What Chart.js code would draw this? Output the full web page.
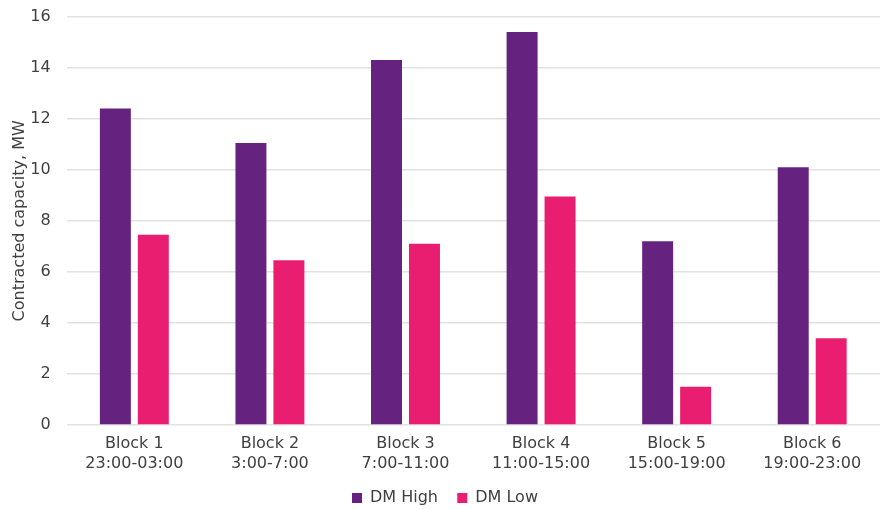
<!DOCTYPE html>
<html>
<head>
<meta charset="utf-8">
<script src="https://cdn.jsdelivr.net/npm/chart.js@4.4.1/dist/chart.umd.min.js"></script>
<style>
  html, body { margin: 0; padding: 0; background: #ffffff; }
  #wrap { width: 884px; height: 509px; position: relative; }
</style>
</head>
<body>
<div id="wrap"><canvas id="c" width="884" height="509"></canvas></div>
<script>
// Time blocks (two-line labels)
const blocks = [
  ['Block 1', '23:00-03:00'],
  ['Block 2', '3:00-7:00'],
  ['Block 3', '7:00-11:00'],
  ['Block 4', '11:00-15:00'],
  ['Block 5', '15:00-19:00'],
  ['Block 6', '19:00-23:00']
];
// Contracted capacity, MW
const dmHigh = [12.4, 11.05, 14.3, 15.4, 7.2, 10.1];
const dmLow  = [7.45, 6.45, 7.1, 8.95, 1.5, 3.4];
const seriesNames = ['DM High', 'DM Low'];
const yTitle = 'Contracted capacity, MW';

const textColor = '#404040';
const fontFamily = '"DejaVu Sans", sans-serif';

// Nudge the legend down a little after the layout pass
const legendNudge = {
  id: 'legendNudge',
  afterLayout(chart) {
    const lg = chart.legend;
    if (!lg) return;
    lg.top += 7; lg.bottom += 7;
  }
};

new Chart(document.getElementById('c'), {
  type: 'bar',
  data: {
    labels: blocks,
    datasets: [
      { label: seriesNames[0], data: dmHigh, backgroundColor: '#65237f',
        categoryPercentage: 0.56, barPercentage: 0.816 },
      { label: seriesNames[1], data: dmLow, backgroundColor: '#e91e70',
        categoryPercentage: 0.56, barPercentage: 0.816 }
    ]
  },
  plugins: [legendNudge],
  options: {
    responsive: false,
    animation: false,
    layout: { padding: { left: 10, right: 4, top: 0, bottom: 0 } },
    plugins: {
      legend: {
        position: 'bottom',
        labels: {
          boxWidth: 10, boxHeight: 10, padding: 4,
          color: textColor, font: { family: fontFamily, size: 16 },
          // extra trailing space separates the two legend entries
          generateLabels: (chart) => {
            const items = Chart.defaults.plugins.legend.labels.generateLabels(chart);
            items.forEach((it, i) => { if (i < items.length - 1) it.text += '   '; });
            return items;
          }
        }
      },
      tooltip: { enabled: false }
    },
    scales: {
      x: {
        grid: { display: false, drawTicks: false },
        border: { display: false },
        ticks: { color: textColor, font: { family: fontFamily, size: 16, lineHeight: 1.25 }, padding: 9 },
        afterFit: (axis) => { axis.height = 54; }
      },
      y: {
        min: 0, max: 16,
        ticks: { stepSize: 2, color: textColor, font: { family: fontFamily, size: 16 }, padding: 7 },
        grid: { color: '#e2e2e2', lineWidth: 1.5, drawTicks: true, tickLength: 9, tickColor: 'rgba(0,0,0,0)' },
        border: { display: false },
        title: { display: true, text: yTitle, color: textColor, font: { family: fontFamily, size: 16 }, padding: { top: 0, bottom: 2 } },
        afterFit: (axis) => { axis.width -= 8; }
      }
    }
  }
});
</script>
</body>
</html>
